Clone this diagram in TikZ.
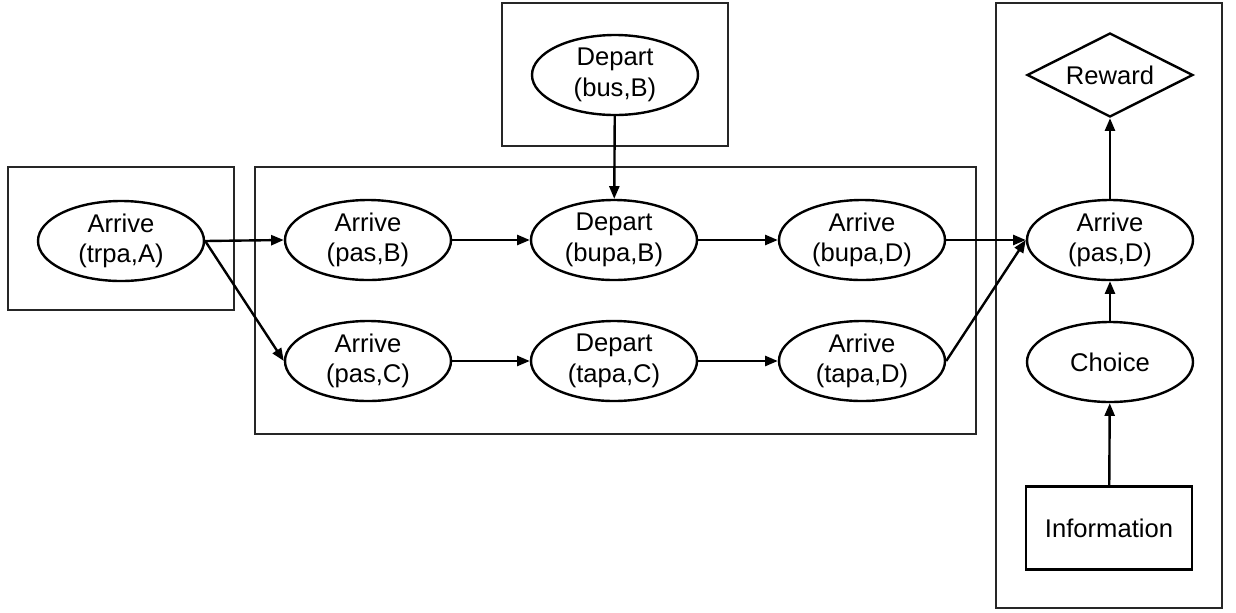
\documentclass[tikz,border=0pt]{standalone}
\usepackage{fontspec}
\setmainfont{Liberation Sans}
\usetikzlibrary{shapes.geometric,arrows.meta}
\begin{document}
\begin{tikzpicture}[x=0.75pt,y=-0.75pt,
  every node/.style={font=\fontsize{19.2}{23}\selectfont, align=center, inner sep=0pt},
  ev/.style={ellipse, draw, line width=1.8pt, minimum width=166*0.75pt, minimum height=80*0.75pt},
  group/.style={draw=black!85, line width=0.8pt},
  link/.style={line width=1.8pt, -{Triangle[length=9.5pt,width=7.5pt]}}]
\useasboundingbox (0,0) rectangle (1236,612);

% enclosing frames
\draw[group] (8,167) rectangle (234,310);
\draw[group] (255,167) rectangle (976,434);
\draw[group] (502,3) rectangle (728,146);
\draw[group] (996,3) rectangle (1222,608);

% events
\node[ev] (trpaA) at (121,241) {Arrive\\(trpa,A)};
\node[ev] (pasB)  at (368,240) {Arrive\\(pas,B)};
\node[ev] (bupaB) at (614,240) {Depart\\(bupa,B)};
\node[ev] (bupaD) at (862,240) {Arrive\\(bupa,D)};
\node[ev] (pasC)  at (368,361) {Arrive\\(pas,C)};
\node[ev] (tapaC) at (614,361) {Depart\\(tapa,C)};
\node[ev] (tapaD) at (862,361) {Arrive\\(tapa,D)};
\node[ev] (busB)  at (615,75)  {Depart\\(bus,B)};
\node[ev] (pasD)  at (1110,240) {Arrive\\(pas,D)};
\node[ev] (choice) at (1110,362) {Choice};
\node[diamond, draw, line width=1.8pt, aspect=2, minimum width=166*0.75pt, minimum height=84*0.75pt] (reward) at (1110,75) {Reward};
\node[rectangle, draw, line width=1.8pt, minimum width=166*0.75pt, minimum height=83*0.75pt] (info) at (1109,528) {Information};

% dependencies
\draw[link] (trpaA.east) -- (pasB.west);
\draw[link] (trpaA.east) -- (pasC.west);
\draw[link] (pasB) -- (bupaB);
\draw[link] (bupaB) -- (bupaD);
\draw[link] (bupaD.east) -- (pasD.west);
\draw[link] (busB) -- (bupaB);
\draw[link] (pasC) -- (tapaC);
\draw[link] (tapaC) -- (tapaD);
\draw[link] (tapaD.east) -- (pasD.west);
\draw[link] (pasD) -- (reward);
\draw[link] (choice) -- (pasD);
\draw[link] (info) -- (choice);
\end{tikzpicture}
\end{document}
